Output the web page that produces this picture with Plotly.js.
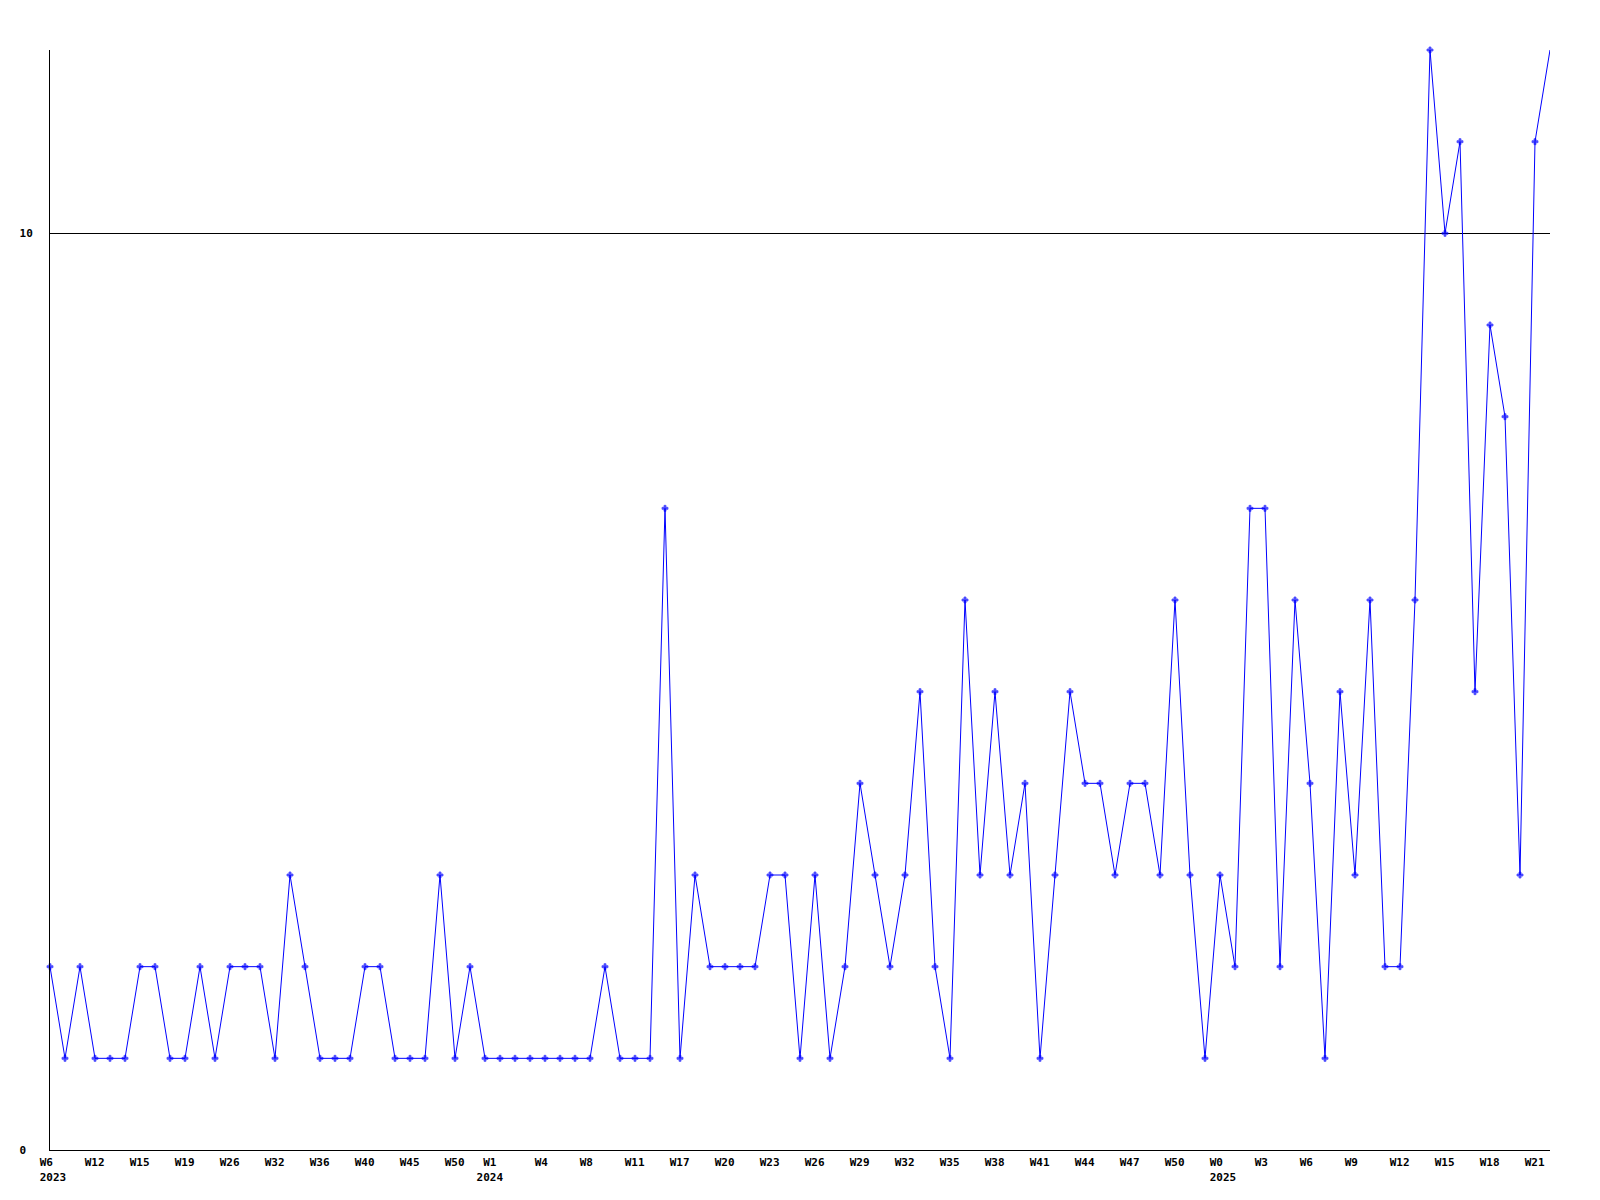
<!DOCTYPE html>
<html>
<head>
<meta charset="utf-8">
<script src="https://cdn.plot.ly/plotly-3.0.1.min.js"></script>
<style>html,body{margin:0;padding:0;background:#fff;}#chart{width:1600px;height:1200px;}</style>
</head>
<body>
<div id="chart"></div>
<script>
// Year of each weekly sample
var years = [
  2023,2023,2023,2023,2023,2023,2023,2023,2023,2023,2023,2023,2023,2023,2023,
  2023,2023,2023,2023,2023,2023,2023,2023,2023,2023,2023,2023,2023,2023,2023,
  2024,2024,2024,2024,2024,2024,2024,2024,2024,2024,2024,2024,2024,2024,2024,2024,
  2024,2024,2024,2024,2024,2024,2024,2024,2024,2024,2024,2024,2024,2024,2024,2024,
  2024,2024,2024,2024,2024,2024,2024,2024,2024,2024,2024,2024,2024,2024,2024,2024,
  2025,2025,2025,2025,2025,2025,2025,2025,2025,2025,2025,2025,
  2025,2025,2025,2025,2025,2025,2025,2025,2025,2025,2025
];
// Week of each sample
var weeks = [
  6,8,10,12,13,14,15,16,18,19,21,23,26,28,30,
  32,33,35,36,37,39,40,42,44,45,47,49,50,51,52,
  1,2,3,4,5,7,8,9,10,11,13,15,17,18,19,20,
  21,22,23,24,25,26,27,28,29,30,31,32,33,34,35,36,
  37,38,39,40,41,42,43,44,45,46,47,48,49,50,51,52,
  0,1,2,3,4,5,6,7,8,9,10,11,
  12,13,14,15,16,17,18,19,20,21,22
];
// Weekly values
var values = [
  2,1,2,1,1,1,2,2,1,1,2,1,2,2,2,1,3,2,1,1,1,2,2,1,1,1,3,1,2,1,
  1,1,1,1,1,1,1,2,1,1,1,7,1,3,2,2,2,2,3,3,1,3,1,2,4,3,2,3,5,2,
  1,6,3,5,3,4,1,3,5,4,4,3,4,4,3,6,3,1,3,2,7,7,2,6,4,1,5,3,6,2,
  2,6,12,10,11,5,9,8,3,11,12
];
// Y axis tick values
var yTicks = [0, 10];

var cats = years.map(function(y, i){ return y + '-W' + weeks[i]; });
var NB = '\u00a0';
function padTo(s, n){ while (s.length < n) s += NB; return s; }
var tickvals = [], ticktext = [];
for (var i = 0; i < cats.length; i += 3) {
  tickvals.push(cats[i]);
  var wk = 'W' + weeks[i];
  var newYear = (i === 0 || years[i] !== years[i-1]);
  var t;
  if (newYear && i > 0 && weeks[i] > 0) {
    // year label sits a little to the left when the year starts at W1
    t = padTo(wk, 6) + '<br>' + padTo(String(years[i]), 8);
  } else {
    t = padTo(wk, 4);
    if (newYear) t += '<br>' + years[i];
  }
  ticktext.push(t);
}
var sizes = values.map(function(v, i){ return i === values.length - 1 ? 0 : 5; });

var font = {family: 'DejaVu Sans Mono, Liberation Mono, monospace', size: 11, color: '#000', weight: 'bold'};

Plotly.newPlot('chart', [{
  x: cats,
  y: values,
  type: 'scatter',
  mode: 'lines+markers',
  cliponaxis: false,
  line: {color: '#0000ff', width: 1},
  marker: {color: '#0000ff', size: sizes, symbol: 'cross', line: {color: '#0000ff', width: 0.8}},
  hoverinfo: 'skip'
}], {
  width: 1600, height: 1200,
  margin: {l: 50, r: 50, t: 50, b: 50},
  paper_bgcolor: '#fff', plot_bgcolor: '#fff',
  showlegend: false,
  font: font,
  xaxis: {
    type: 'category',
    categoryorder: 'array', categoryarray: cats,
    range: [0, cats.length - 1],
    tickmode: 'array', tickvals: tickvals, ticktext: ticktext,
    tickangle: 0,
    ticks: '', showgrid: false, zeroline: false,
    showline: true, linecolor: '#000', linewidth: 1,
    tickfont: font, ticklabelshift: 3, ticklabelstandoff: 2
  },
  yaxis: {
    range: [0, 12],
    tickmode: 'array', tickvals: yTicks,
    ticktext: yTicks.map(function(v){ return padTo(String(v), 2); }),
    ticks: '', showgrid: true, gridcolor: '#000', gridwidth: 1,
    zeroline: false, showline: true, linecolor: '#000', linewidth: 1,
    tickfont: font, ticklabelstandoff: 14
  }
}, {displayModeBar: false, staticPlot: true});
</script>
</body>
</html>
